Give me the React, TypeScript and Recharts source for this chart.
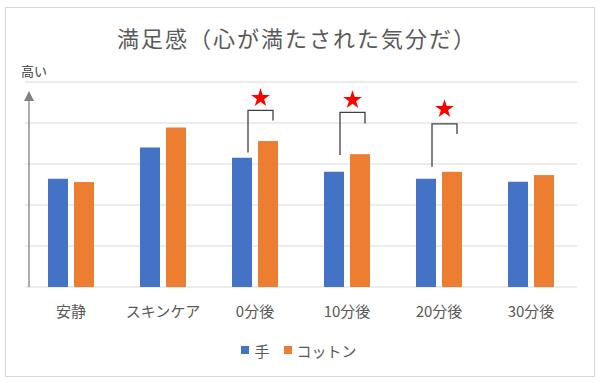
import { BarChart, Bar, XAxis, YAxis, CartesianGrid, Legend, Symbols } from 'recharts';

const categories = ['安静', 'スキンケア', '0分後', '10分後', '20分後', '30分後'];
const handValues = [2.64, 3.4, 3.15, 2.81, 2.64, 2.57];
const cottonValues = [2.56, 3.89, 3.56, 3.24, 2.81, 2.73];

// significance brackets (value units), null = none
const bracketTop = [null, null, 4.31, 4.26, 3.98, null];
const bracketLeftEnd = [null, null, 3.28, 3.22, 2.93, null];
const bracketRightEnd = [null, null, 4.06, 3.99, 3.73, null];
const starAt = [null, null, 4.61, 4.56, 4.34, null];

const yTicks = [0, 1, 2, 3, 4, 5];
const arrowTip = 4.78;
const legendOrder = ['手', 'コットン'];

const data = categories.map((name, i) => ({
  name,
  hand: handValues[i],
  cotton: cottonValues[i],
  top: bracketTop[i],
  leftEnd: bracketLeftEnd[i],
  rightEnd: bracketRightEnd[i],
  star: starAt[i],
}));

const BLUE = '#4472C4';
const ORANGE = '#ED7D31';
const TEXT = '#595959';
const FONT = "'Noto Sans CJK JP', 'Noto Sans', sans-serif";

function CottonBar(props: any) {
  const { x, y, width, height, payload, fill } = props;
  const base = y + height;
  const unit = height / payload.cotton;
  const py = (v: number) => base - v * unit;
  const left = x - 10;
  const right = x + 15;
  return (
    <g>
      <rect x={x} y={y} width={width} height={height} fill={fill} />
      {payload.top != null && (
        <g>
          <polyline
            points={`${left},${py(payload.leftEnd)} ${left},${py(payload.top)} ${right},${py(payload.top)} ${right},${py(payload.rightEnd)}`}
            fill="none"
            stroke="#404040"
            strokeWidth={1.3}
          />
          <Symbols type="star" size={110} cx={(left + right) / 2} cy={py(payload.star)} fill="#FF0000" />
        </g>
      )}
    </g>
  );
}

function AxisArrow(props: any) {
  const vb = props.viewBox;
  if (!vb) return null;
  const ax = vb.x + vb.width + 4;
  const bottom = vb.y + vb.height;
  const tip = vb.y + vb.height * (1 - arrowTip / yTicks[yTicks.length - 1]);
  return (
    <g>
      <line x1={ax} y1={bottom} x2={ax} y2={tip + 8} stroke="#808080" strokeWidth={1.3} />
      <polygon points={`${ax},${tip} ${ax - 5},${tip + 10} ${ax + 5},${tip + 10}`} fill="#808080" />
    </g>
  );
}

function renderLegend(props: any) {
  const items = [...(props.payload || [])].sort(
    (a: any, b: any) => legendOrder.indexOf(a.value) - legendOrder.indexOf(b.value)
  );
  return (
    <div style={{ display: 'flex', justifyContent: 'center', alignItems: 'center', height: 20, fontFamily: FONT }}>
      {items.map((entry: any) => (
        <div key={entry.value} style={{ display: 'flex', alignItems: 'center', margin: '0 7px' }}>
          <span style={{ width: 8, height: 8, background: entry.color, display: 'inline-block', marginRight: 5 }} />
          <span style={{ fontSize: 15, color: TEXT }}>{entry.value}</span>
        </div>
      ))}
    </div>
  );
}

export default function App() {
  return (
    <div style={{ position: 'absolute', left: 0, top: 0, width: 601, height: 382, background: '#fff', fontFamily: FONT }}>
      <div
        style={{
          position: 'absolute',
          left: 5,
          top: 7,
          width: 590,
          height: 370,
          border: '1px solid #D9D9D9',
          boxSizing: 'border-box',
        }}
      />
      <div
        style={{
          position: 'absolute',
          left: 0,
          top: 26,
          width: 594,
          textAlign: 'center',
          fontSize: 22,
          lineHeight: '22px',
          letterSpacing: 2,
          color: TEXT,
        }}
      >
        満足感（心が満たされた気分だ）
      </div>
      <div style={{ position: 'absolute', left: 21, top: 64, fontSize: 13, lineHeight: '13px', color: '#404040' }}>
        高い
      </div>
      <div style={{ position: 'absolute', left: 0, top: 0 }}>
        <BarChart
          width={601}
          height={382}
          data={data}
          margin={{ top: 82, right: 24, left: 21, bottom: 22 }}
          barSize={20}
          barGap={6}
        >
          <CartesianGrid horizontal vertical={false} stroke="#D9D9D9" />
          <XAxis
            dataKey="name"
            axisLine={false}
            tickLine={false}
            height={53}
            tickMargin={13}
            interval={0}
            tick={{ fill: TEXT, fontSize: 15 }}
          />
          <YAxis
            width={4}
            domain={[0, 5]}
            ticks={yTicks}
            tick={{ fill: 'none', fontSize: 1 }}
            axisLine={false}
            tickLine={false}
            label={{ content: (p: any) => <AxisArrow {...p} /> }}
          />
          <Legend verticalAlign="bottom" content={renderLegend} wrapperStyle={{ height: 20 }} />
          <Bar dataKey="hand" name="手" fill={BLUE} isAnimationActive={false} />
          <Bar dataKey="cotton" name="コットン" fill={ORANGE} isAnimationActive={false} shape={(p: any) => <CottonBar {...p} />} />
        </BarChart>
      </div>
    </div>
  );
}
